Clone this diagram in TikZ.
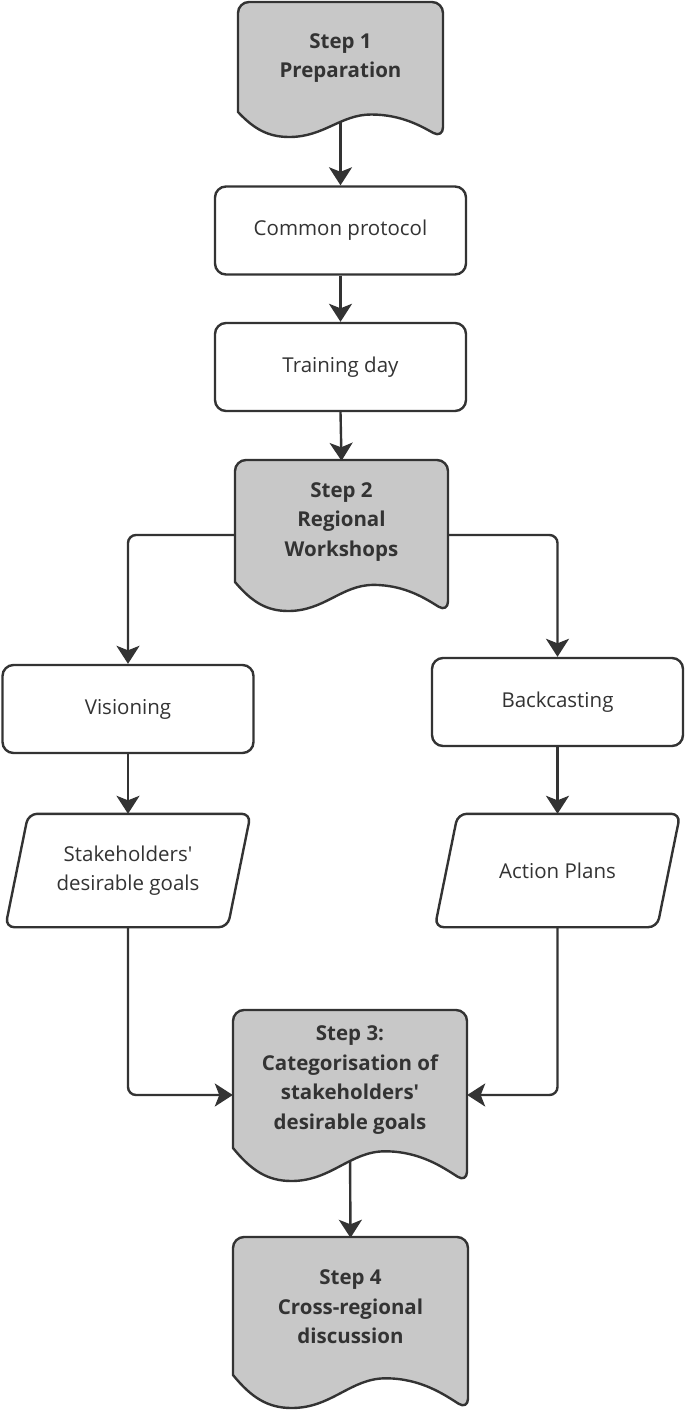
\documentclass[tikz,border=0pt]{standalone}
\usepackage{fontspec}
\setmainfont{Open Sans}[Ligatures=TeXOff]
\usetikzlibrary{arrows.meta,backgrounds}
\definecolor{ln}{HTML}{333333}
\definecolor{gr}{HTML}{C8C8C8}
\definecolor{tx}{HTML}{333333}
\tikzset{
  box/.style={draw=ln, line width=2.4pt, rounded corners=11pt, minimum width=251pt,
    minimum height=88pt, inner sep=0pt, text=tx, font=\fontsize{20.5}{29.5}\selectfont},
  paratext/.style={minimum width=222pt, minimum height=113pt, inner sep=0pt, align=center,
    text=tx, font=\fontsize{20.5}{29.5}\selectfont},
  paraline/.style={draw=ln, line width=2.4pt, rounded corners=9pt},
  steptext/.style={inner sep=0pt, align=center, text=tx,
    font=\bfseries\fontsize{20.5}{29.5}\selectfont},
  docline/.style={draw=ln, fill=gr, line width=2.4pt, line join=miter},
  conn/.style={draw=ln, line width=2.4pt, rounded corners=8pt,
    -{Stealth[length=18pt,width=23pt,inset=4.5pt]}},
}
\newcommand\docshape[5]{% xl xr top yl A
  \pgfmathsetmacro\dw{#2-#1}%
  \draw[docline] (#1,#4) {[rounded corners=11pt] -- (#1,#3) -- (#2,#3) -- (#2,{#4+1.05*#5})}
   .. controls ({#1+0.9*\dw},{#4+0.6*#5}) and ({#1+0.8*\dw},{#4+0.1*#5}) .. ({#1+0.65*\dw},{#4+0.1*#5})
   .. controls ({#1+0.5*\dw},{#4+0.1*#5}) and ({#1+0.42*\dw},{#4+#5}) .. ({#1+0.25*\dw},{#4+#5})
   .. controls ({#1+0.15*\dw},{#4+#5}) and ({#1+0.08*\dw},{#4+0.7*#5}) .. (#1,#4) -- cycle;}
\begin{document}
\begin{tikzpicture}[x=1pt,y=-1pt]
\useasboundingbox (0,0) rectangle (685,1413);
% document shapes
\docshape{238}{443}{2}{112}{25}
\node[steptext, minimum width=205pt, minimum height=110pt] (s1) at (340.5,58) {Step 1\\Preparation};
\docshape{235}{448}{460}{582}{29}
\node[steptext, minimum width=213pt, minimum height=122pt] (s2) at (341.5,522) {Step 2\\Regional\\Workshops};
\docshape{233}{467}{1010}{1148}{33}
\node[steptext, minimum width=234pt, minimum height=138pt] (s3) at (350,1080) {Step 3:\\Categorisation of\\stakeholders'\\desirable goals};
\docshape{233}{468}{1237}{1375}{33}
\node[steptext, minimum width=235pt, minimum height=138pt] (s4) at (350.5,1307) {Step 4\\Cross-regional\\discussion};
% boxes
\node[box] (cp) at (340.5,230.5) {Common protocol};
\node[box] (td) at (340.5,367) {Training day};
\node[box] (vis) at (128,709) {Visioning};
\node[box] (bc) at (557.5,702) {Backcasting};
% parallelograms
\node[paratext] (sg) at (128,870.5) {Stakeholders'\\desirable goals};
\draw[paraline] ([xshift=11.5pt]sg.north west) -- ([xshift=11.5pt]sg.north east)
  -- ([xshift=-11.5pt]sg.south east) -- ([xshift=-11.5pt]sg.south west) -- cycle;
\node[paratext] (ap) at (557.5,870.5) {Action Plans};
\draw[paraline] ([xshift=11.5pt]ap.north west) -- ([xshift=11.5pt]ap.north east)
  -- ([xshift=-11.5pt]ap.south east) -- ([xshift=-11.5pt]ap.south west) -- cycle;
% connectors
\begin{scope}[on background layer]
\fill[white] (0,0) rectangle (685,1413);
\draw[conn] (s1.south) -- (cp.north);
\draw[conn] (cp.south) -- (td.north);
\draw[conn] (td.south) -- (s2.north);
\draw[conn] ([yshift=-13pt]s2.west) -| (vis.north);
\draw[conn] ([yshift=-13pt]s2.east) -| (bc.north);
\draw[conn] (vis.south) -- (sg.north);
\draw[conn] (bc.south) -- (ap.north);
\draw[conn] (sg.south) |- ([yshift=-15pt]s3.west);
\draw[conn] (ap.south) |- ([yshift=-15pt]s3.east);
\draw[conn] (s3.south) -- (s4.north);
\end{scope}
\end{tikzpicture}
\end{document}
